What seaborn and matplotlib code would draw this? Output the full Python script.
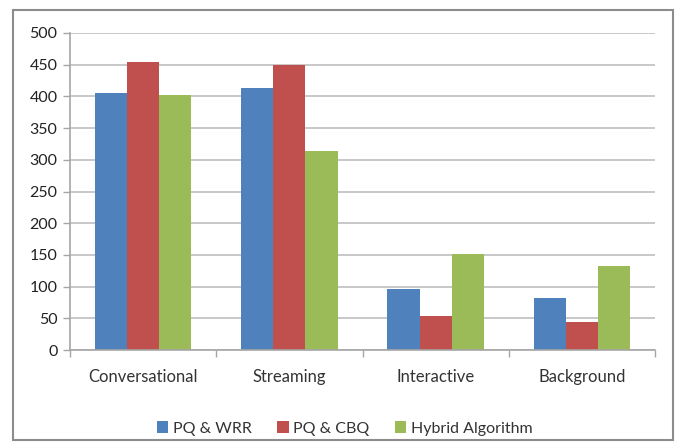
import matplotlib
matplotlib.use("Agg")
import matplotlib.pyplot as plt
from matplotlib.patches import Rectangle
import seaborn as sns
import pandas as pd
import numpy as np

# traffic classes and the three schedulers
categories = ["Conversational", "Streaming", "Interactive", "Background"]
series = ["PQ & WRR", "PQ & CBQ", "Hybrid Algorithm"]
pq_wrr = [405, 413, 96, 82]
pq_cbq = [455, 450, 53, 44]
hybrid = [402, 314, 152, 133]
yticks = [0, 50, 100, 150, 200, 250, 300, 350, 400, 450, 500]

colors = ["#4F81BD", "#C0504D", "#9BBB59"]

rows = []
for name, vals in zip(series, [pq_wrr, pq_cbq, hybrid]):
    for c, v in zip(categories, vals):
        rows.append({"Class": c, "Scheduler": name, "Value": v})
df = pd.DataFrame(rows)

sns.set_style("white")
plt.rcParams["font.family"] = ["Lato", "DejaVu Sans"]

fig = plt.figure(figsize=(6.78, 4.46), dpi=100)
ax = fig.add_axes([70 / 678, 1 - 350 / 446, 585 / 678, 317 / 446])

sns.barplot(data=df, x="Class", y="Value", hue="Scheduler", order=categories,
            hue_order=series, palette=colors, width=0.66, gap=0,
            saturation=1, linewidth=0, ax=ax, legend=True)

ax.set_ylim(0, 500)
ax.set_xlim(-0.5, 3.5)
ax.set_yticks(yticks)
ax.yaxis.grid(True, color="#BFBFBF", linewidth=1.2)
ax.set_axisbelow(True)
ax.set_xlabel("")
ax.set_ylabel("")

for s in ["top", "right"]:
    ax.spines[s].set_visible(False)
for s in ["left", "bottom"]:
    ax.spines[s].set_color("#A6A6A6")
    ax.spines[s].set_linewidth(1.2)

ax.tick_params(axis="y", labelsize=11.5, labelcolor="#222222", length=5,
               width=1, left=True, pad=4, color="#A6A6A6")
ax.tick_params(axis="x", which="major", length=0, labelsize=12,
               labelcolor="#333333", pad=14)
ax.set_xticks(np.arange(-0.5, 4, 1), minor=True)
ax.tick_params(axis="x", which="minor", length=5, color="#A6A6A6",
               width=1, bottom=True)

ax.legend(loc="upper center", bbox_to_anchor=(0.47, -0.18), ncol=3,
          frameon=False, fontsize=11.5, handlelength=0.7, handleheight=0.7,
          handletextpad=0.3, columnspacing=1.6, labelcolor="#333333")

fig.patches.append(Rectangle((13 / 678, 1 - 440 / 446), 660 / 678, 430 / 446,
                             transform=fig.transFigure, fill=False,
                             edgecolor="#8C8C8C", linewidth=1.5))

fig.savefig("out.png", dpi=100)
